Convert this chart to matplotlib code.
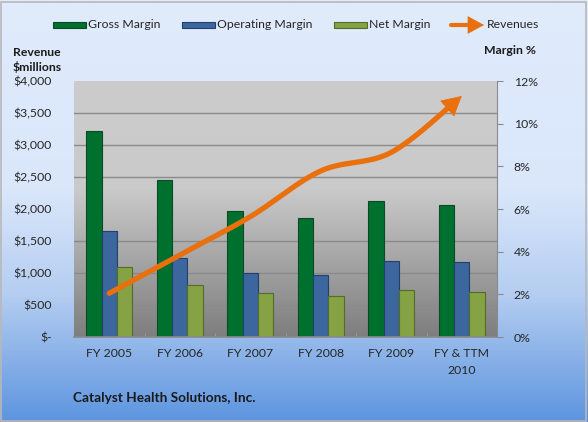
import numpy as np
import matplotlib
matplotlib.use("Agg")
import matplotlib.pyplot as plt
from matplotlib.colors import LinearSegmentedColormap
from matplotlib.patches import Rectangle, FancyArrowPatch
from matplotlib.ticker import FixedLocator

# ---------------- data ----------------
categories = ["FY 2005", "FY 2006", "FY 2007", "FY 2008", "FY 2009", "FY & TTM\n2010"]
gross_margin = [9.67, 7.36, 5.89, 5.56, 6.37, 6.17]
operating_margin = [4.98, 3.69, 2.98, 2.89, 3.56, 3.52]
net_margin = [3.30, 2.42, 2.05, 1.91, 2.20, 2.11]
revenues = [683, 1281, 1880, 2595, 2885, 3766]
rev_ticks = [0, 500, 1000, 1500, 2000, 2500, 3000, 3500, 4000]
rev_labels = ["$-", "$500", "$1,000", "$1,500", "$2,000", "$2,500", "$3,000", "$3,500", "$4,000"]
pct_ticks = [0, 2, 4, 6, 8, 10, 12]
pct_labels = ["0%", "2%", "4%", "6%", "8%", "10%", "12%"]

plt.rcParams['font.family'] = ['Lato', 'DejaVu Sans']
TXT = "#262626"
FS = 8.8
C_GROSS, C_OP, C_NET, C_REV = "#00702f", "#3b679e", "#85a244", "#e9700c"

W, H = 588, 422
fig = plt.figure(figsize=(W / 100, H / 100), dpi=100)

# figure background gradient
bg = fig.add_axes([0, 0, 1, 1], zorder=-10)
bg.set_axis_off()
cm_bg = LinearSegmentedColormap.from_list("bg", [(0, "#e0ebfc"), (0.45, "#dae7fb"), (0.7, "#b4cdf1"), (1, "#5d95df")])
bg.imshow(np.linspace(0, 1, 256).reshape(-1, 1), cmap=cm_bg, aspect="auto", extent=[0, 1, 0, 1])
bg.set_xlim(0, 1); bg.set_ylim(0, 1)
fig.add_artist(Rectangle((0.002, 0.003), 0.995, 0.993, transform=fig.transFigure,
                         fill=False, edgecolor="#b8b8b8", lw=1.2))

L, R, B, T = 74 / W, 497 / W, (H - 337) / H, (H - 81) / H
ax = fig.add_axes([L, B, R - L, T - B])
x = np.arange(len(categories))

# plot area gradient
cm_pa = LinearSegmentedColormap.from_list("pa", [(0, "#cccccc"), (0.42, "#cacaca"), (1, "#7e7e7e")])
ax.imshow(np.linspace(0, 1, 256).reshape(-1, 1), cmap=cm_pa, aspect="auto",
          extent=[0, 1, 0, 1], transform=ax.transAxes, zorder=0)

bw = 0.217
ax.bar(x - bw, gross_margin, bw, color=C_GROSS, edgecolor="#0b4a25", lw=0.8, zorder=2)
ax.bar(x, operating_margin, bw, color=C_OP, edgecolor="#24406a", lw=0.8, zorder=2)
ax.bar(x + bw, net_margin, bw, color=C_NET, edgecolor="#566b2a", lw=0.8, zorder=2)

ax.set_xlim(-0.5, len(categories) - 0.5)
ax.set_ylim(0, 12)

# revenue axis (left) on top
ax2 = ax.twinx()
ax2.set_ylim(0, 4000)
ax2.yaxis.tick_left()
ax2.yaxis.set_label_position("left")
ax2.set_yticks(rev_ticks)
ax2.set_yticklabels(rev_labels, color=TXT, fontsize=FS)
ax2.tick_params(axis="y", length=0, pad=16)
for s in ax2.spines.values():
    s.set_visible(False)

ax.yaxis.tick_right()
ax.set_yticks(pct_ticks)
ax.set_yticklabels(pct_labels, color=TXT, fontsize=FS)
ax.yaxis.set_minor_locator(FixedLocator(np.arange(0, 12.01, 1.5)))
ax.grid(True, which="minor", axis="y", color="#8a8a8a", lw=1.0, zorder=1)
ax.tick_params(axis="y", which="major", length=4, color="#8a8a8a", pad=8)
ax.tick_params(axis="y", which="minor", length=0)
ax.set_xticks(x)
ax.set_xticklabels(categories, color=TXT, fontsize=FS, linespacing=1.6)
ax.xaxis.set_minor_locator(FixedLocator(np.arange(0.5, len(categories) - 1, 1)))
ax.tick_params(axis="x", which="major", length=0, pad=8)
ax.tick_params(axis="x", which="minor", length=3, direction="in", color="#a0a0a0")
for s in ["left", "top"]:
    ax.spines[s].set_visible(False)
ax.spines["right"].set_color("#8a8a8a")
ax.spines["bottom"].set_color("#8a8a8a")
ax.spines["bottom"].set_linewidth(1.2)

# smooth (Excel-style Bezier) revenue curve in pixel-like space
px = x * 70.5
py = np.array(revenues) / 15.625
P = np.column_stack([px, py])
pts = []
n = len(P)
for i in range(n - 1):
    p0 = P[max(i - 1, 0)]; p1 = P[i]; p2 = P[i + 1]; p3 = P[min(i + 2, n - 1)]
    c1 = p1 + (p2 - p0) / 6
    c2 = p2 - (p3 - p1) / 6
    t = np.linspace(0, 1, 60)[:, None]
    seg = (1 - t) ** 3 * p1 + 3 * (1 - t) ** 2 * t * c1 + 3 * (1 - t) * t ** 2 * c2 + t ** 3 * p2
    pts.append(seg if i == 0 else seg[1:])
curve = np.vstack(pts)
# stop shaft ~12 px before the tip
d = np.hypot(curve[:, 0] - curve[-1, 0], curve[:, 1] - curve[-1, 1])
cut = np.where(d > 11)[0][-1]
cx = curve[:, 0] / 70.5
cy = curve[:, 1] * 15.625
ax2.plot(cx[:cut + 1], cy[:cut + 1], color=C_REV, lw=3.8, solid_capstyle="round", zorder=5)
ax2.add_patch(FancyArrowPatch((cx[cut - 3], cy[cut - 3]), (cx[-1], cy[-1]),
                              arrowstyle="-|>,head_length=1.1,head_width=0.6",
                              mutation_scale=12, color=C_REV, lw=0.5,
                              shrinkA=0, shrinkB=0, zorder=6))

# axis titles
fig.text(13 / W, 1 - 52 / H, "Revenue", fontsize=FS, fontweight="bold", color="#1a1a1a", va="center")
fig.text(13 / W, 1 - 67 / H, "$millions", fontsize=FS, fontweight="bold", color="#1a1a1a", va="center")
fig.text(536 / W, 1 - 50 / H, "Margin %", fontsize=FS, fontweight="bold", color="#1a1a1a", va="center", ha="right")
fig.text(73 / W, 1 - 398 / H, "Catalyst Health Solutions, Inc.", fontsize=9.8, fontweight="bold",
         color="#1a1a1a", va="center")

# legend (manual)
ly = 1 - 25 / H
for x0, x1, col, ec, lab in [(53, 86, C_GROSS, "#0b4a25", "Gross Margin"),
                             (182, 215, C_OP, "#24406a", "Operating Margin"),
                             (334, 367, C_NET, "#566b2a", "Net Margin")]:
    fig.add_artist(Rectangle((x0 / W, ly - 3 / H), (x1 - x0) / W, 6 / H, transform=fig.transFigure,
                             facecolor=col, edgecolor=ec, lw=0.8))
    fig.text((x1 + 2) / W, ly, lab, fontsize=FS, color=TXT, va="center")
fig.add_artist(FancyArrowPatch((451 / W, ly), (472 / W, ly), transform=fig.transFigure,
                               arrowstyle="-", color=C_REV, lw=3, shrinkA=0, shrinkB=0))
fig.add_artist(FancyArrowPatch((465 / W, ly), (484 / W, ly), transform=fig.transFigure,
                               arrowstyle="-|>,head_length=1.1,head_width=0.6", mutation_scale=10,
                               color=C_REV, lw=0.5, shrinkA=0, shrinkB=0))
fig.text(487 / W, ly, "Revenues", fontsize=FS, color=TXT, va="center")

fig.savefig("out.png", dpi=100)
